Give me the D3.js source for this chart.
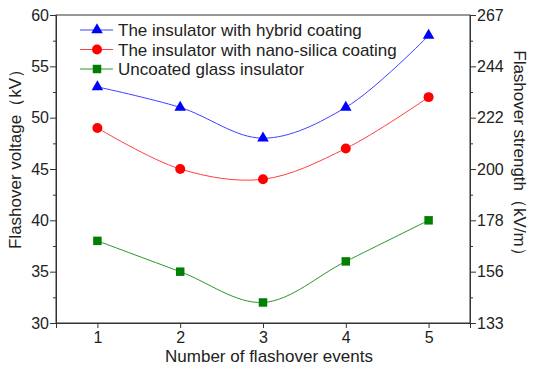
<!DOCTYPE html>
<html><head><meta charset="utf-8">
<script src="https://cdn.jsdelivr.net/npm/d3@7"></script>
<style>body{margin:0;background:#fff}svg{display:block}text{font-family:"Liberation Sans",Arial,sans-serif;fill:#222}</style>
</head><body><svg id="c" width="536" height="374"></svg>
<script>
const events = [1, 2, 3, 4, 5];
const hybrid = [53, 51, 48, 51, 58];
const nano = [49, 45, 44, 47, 52];
const uncoated = [38, 35, 32, 36, 40];
const leftTicks = [30, 35, 40, 45, 50, 55, 60];
const rightTicks = [133.33, 155.56, 177.78, 200, 222.22, 244.44, 266.67];
const seriesNames = ["The insulator with hybrid coating", "The insulator with nano-silica coating", "Uncoated glass insulator"];

const svg = d3.select("#c");
const L = 56, R = 470, T = 15, B = 323;
const x = d3.scaleLinear().domain([0.5, 5.5]).range([L, R]);
const y = d3.scaleLinear().domain([30, 60]).range([B, T]);
const y2 = d3.scaleLinear().domain([133.33, 266.67]).range([B, T]);

const fs = 16, fl = 17;
svg.append("rect").attr("x", L).attr("y", T).attr("width", R - L).attr("height", B - T)
  .attr("fill", "none").attr("stroke", "#333").attr("stroke-width", 1);

const gl = svg.append("g").attr("transform", `translate(${L},0)`)
  .call(d3.axisLeft(y).tickValues(leftTicks).tickSize(6).tickPadding(1).tickFormat(d3.format("d")));
const glm = svg.append("g").attr("transform", `translate(${L},0)`)
  .call(d3.axisLeft(y).tickValues(d3.range(32.5, 60, 5)).tickSize(3).tickFormat(""));
const gr = svg.append("g").attr("transform", `translate(${R},0)`)
  .call(d3.axisRight(y2).tickValues(rightTicks).tickSize(6).tickPadding(1).tickFormat(d => Math.round(d)));
const grm = svg.append("g").attr("transform", `translate(${R},0)`)
  .call(d3.axisRight(y2).tickValues(d3.range(144.44, 266, 22.222)).tickSize(3).tickFormat(""));
const gb = svg.append("g").attr("transform", `translate(0,${B})`)
  .call(d3.axisBottom(x).tickValues(events).tickSize(5).tickPadding(4).tickFormat(d3.format("d")));
[gl, glm, gr, grm, gb].forEach(g => {
  g.selectAll(".domain").attr("stroke", "#333");
  g.selectAll(".tick line").attr("stroke", "#333");
  g.selectAll("text").attr("font-size", fs).attr("font-family", '"Liberation Sans",Arial,sans-serif').attr("fill", "#222");
});

svg.append("text").attr("x", 269).attr("y", 362).attr("text-anchor", "middle")
  .attr("font-size", fl).text("Number of flashover events");
svg.append("text").attr("transform", `translate(21,155) rotate(-90)`).attr("text-anchor", "middle")
  .attr("font-size", fl).text("Flashover voltage（kV）");
svg.append("text").attr("transform", `translate(514,157) rotate(90)`).attr("text-anchor", "middle")
  .attr("font-size", fl).text("Flashover strength（kV/m）");

const series = [
  {vals: hybrid, color: "#0000ff", line: "#4040ff", sym: d3.symbolTriangle, size: 58},
  {vals: nano, color: "#ff0000", line: "#ff4040", sym: d3.symbolCircle, size: 78},
  {vals: uncoated, color: "#008000", line: "#2a962a", sym: d3.symbolSquare, size: 72}
];
const line = d3.line().x((d, i) => x(events[i])).y(d => y(d)).curve(d3.curveCatmullRom.alpha(0.5));
series.forEach((s, k) => {
  svg.append("path").attr("d", line(s.vals)).attr("fill", "none").attr("stroke", s.line).attr("stroke-width", 1);
  svg.selectAll(null).data(s.vals).enter().append("path")
    .attr("d", d3.symbol().type(s.sym).size(s.size))
    .attr("transform", (d, i) => `translate(${x(events[i])},${y(d)})`)
    .attr("fill", s.color);
  const ly = 30 + k * 19.5;
  svg.append("line").attr("x1", 80).attr("x2", 113).attr("y1", ly).attr("y2", ly).attr("stroke", s.line);
  svg.append("path").attr("d", d3.symbol().type(s.sym).size(s.size))
    .attr("transform", `translate(97,${ly})`).attr("fill", s.color);
  svg.append("text").attr("x", 118).attr("y", ly + 6).attr("font-size", fl).text(seriesNames[k]);
});
</script></body></html>
